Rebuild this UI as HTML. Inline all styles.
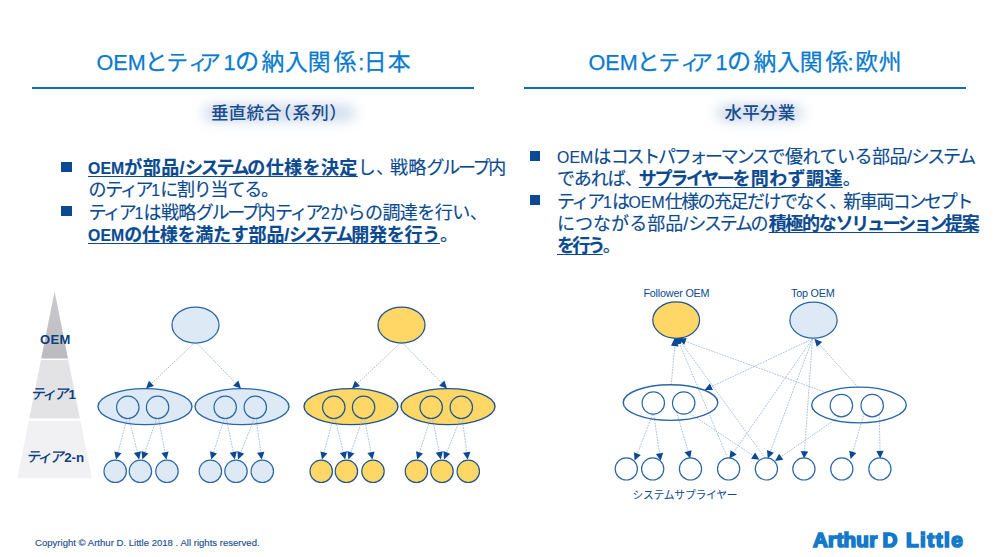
<!DOCTYPE html>
<html lang="ja">
<head>
<meta charset="utf-8">
<title>OEMとティア1の納入関係</title>
<style>
html,body{margin:0;padding:0;background:#fff;}
body{width:1000px;height:557px;position:relative;overflow:hidden;font-family:"Liberation Sans","Noto Sans CJK JP",sans-serif;}
.abs{position:absolute;white-space:nowrap;}
.rule{position:absolute;height:2.1px;background:#0d6dbf;top:87.4px;}
.sub{z-index:0;color:#1a4c8e;font-size:17.5px;font-weight:500;line-height:22px;top:102.3px;text-shadow:0 0 6px #d6e2f0;}
.sub::before{content:"";position:absolute;left:-8px;right:-8px;top:3px;bottom:3px;background:#d0dcec;filter:blur(6.5px);z-index:-1;border-radius:9px;}
.bl{-webkit-text-stroke:0.15px #0b4a8f;color:#0b4a8f;font-size:18px;line-height:24px;height:24px;}
.bl b{font-weight:700;text-decoration:underline;text-decoration-thickness:1.3px;text-underline-offset:1.6px;}
.sq{position:absolute;width:10.6px;height:10.2px;background:#0b4a92;}
.lat{font-size:15.8px;letter-spacing:0.1px;}
.k{letter-spacing:-2.3px;}
.p{letter-spacing:-4px;}
.foot{font-size:9.5px;color:#1c4f90;-webkit-text-stroke:0.15px #1c4f90;left:35px;top:536.8px;letter-spacing:0.03px;line-height:12px;}
.logo{font-size:20.6px;font-weight:700;color:#1479c9;top:526.8px;line-height:26px;-webkit-text-stroke:1.7px #1479c9;}
svg{position:absolute;left:0;top:0;}
svg text{font-family:"Liberation Sans","Noto Sans CJK JP",sans-serif;}
</style>
</head>
<body>
<div class="rule" style="left:32px;width:442px;"></div>
<div class="abs sub" style="left:211px;letter-spacing:0.2px">垂直統合<span style="margin-left:-8.2px">（</span><span style="margin-left:1.2px;letter-spacing:1.2px">系列</span><span style="margin-left:-0.8px">）</span></div>

<div class="rule" style="left:524px;width:442px;"></div>
<div class="abs sub" style="left:724.6px;letter-spacing:0.2px">水平分業</div>

<div class="sq" style="left:61.2px;top:162.2px;"></div>
<div class="sq" style="left:61.2px;top:205.8px;"></div>
<!--BL-->
<div class="abs bl" id="l1" style="left:88px;top:156.1px;"><b id="l1_0" style="letter-spacing:0.42px"><span class="lat">OEM</span>が部品/<span class="k">システム</span>の仕様を決定</b><span id="l1_1" style="letter-spacing:0.23px">し<span class="p">、</span>戦略<span class="k">グループ</span>内</span></div>
<div class="abs bl" id="l2" style="left:88.5px;top:178.3px;"><span id="l2_0" style="letter-spacing:-1.21px">の<span class="k">ティア</span><span class="lat">1</span>に割り当てる。</span></div>
<div class="abs bl" id="l3" style="left:88.5px;top:200.5px;"><span id="l3_0" style="letter-spacing:-0.53px"><span class="k">ティア</span><span class="lat">1</span>は戦略<span class="k">グループ</span>内<span class="k">ティア</span><span class="lat">2</span>からの調達を行い<span class="p">、</span></span></div>
<div class="abs bl" id="l4" style="left:88px;top:222.7px;"><b id="l4_0" style="letter-spacing:-0.24px"><span class="lat">OEM</span>の仕様を満たす部品/<span class="k">システム</span>開発を行う</b><span id="l4_1" style="letter-spacing:0.00px">。</span></div>
<div class="abs bl" id="r1" style="left:557px;top:145.1px;"><span id="r1_0" style="letter-spacing:-0.48px"><span class="lat">OEM</span>は<span class="k">コストパフォーマンス</span>で優れている部品/<span class="k">システム</span></span></div>
<div class="abs bl" id="r2" style="left:557px;top:167.3px;"><span id="r2_0" style="letter-spacing:-1.01px">であれば<span class="p">、</span></span><b id="r2_1" style="letter-spacing:0.39px"><span class="k">サプライヤー</span>を問わず調達</b><span id="r2_2" style="letter-spacing:0.00px">。</span></div>
<div class="abs bl" id="r3" style="left:557px;top:189.5px;"><span id="r3_0" style="letter-spacing:-1.54px"><span class="k">ティア</span><span class="lat">1</span>は<span class="lat">OEM</span>仕様の充足だけでなく<span class="p">、</span>新車両<span class="k">コンセプト</span></span></div>
<div class="abs bl" id="r4" style="left:557px;top:211.7px;"><span id="r4_0" style="letter-spacing:0.04px">につながる部品/<span class="k">システム</span>の</span><b id="r4_1" style="letter-spacing:-1.28px">積極的な<span class="k">ソリューション</span>提案</b></div>
<div class="abs bl" id="r5" style="left:557px;top:233.9px;"><b id="r5_0" style="letter-spacing:-2.74px">を行う</b><span id="r5_1" style="letter-spacing:0.00px">。</span></div>
<!--/BL-->
<div class="sq" style="left:529.6px;top:151.3px;"></div>
<div class="sq" style="left:529.6px;top:194.8px;"></div>

<svg width="1000" height="557" viewBox="0 0 1000 557">
<defs><linearGradient id="pg" x1="0" y1="0" x2="0" y2="1"><stop offset="0" stop-color="#cbcbce"/><stop offset="1" stop-color="#bbbbbf"/></linearGradient></defs>
<polygon points="54.6,291.3 54.6,291.3 68.0,358.6 41.2,358.6" fill="url(#pg)"/>
<polygon points="40.9,360.0 68.3,360.0 80.0,418.6 29.2,418.6" fill="#e3e3e6"/>
<polygon points="28.8,420.8 80.4,420.8 91.9,478.3 17.3,478.3" fill="#f1f1f3"/>
<text x="40" y="343.6" font-size="13" font-weight="700" letter-spacing="0.3" fill="#0b3f80">OEM</text>
<text x="0" y="0" transform="translate(30.4 398.6) skewX(-10)" font-size="14.5" font-weight="500" letter-spacing="-2.1" fill="#0b3f80">ティア</text>
<text x="68.6" y="398.9" font-size="13.3" font-weight="700" fill="#0b3f80">1</text>
<text x="0" y="0" transform="translate(25.9 461.6) skewX(-10)" font-size="14.5" font-weight="500" letter-spacing="-2.1" fill="#0b3f80">ティア</text>
<text x="64.2" y="461.8" font-size="13.3" font-weight="700" fill="#0b3f80">2-n</text>
<ellipse cx="195.5" cy="325.0" rx="23.5" ry="18.0" fill="#dee9f6" stroke="#2a67a6" stroke-width="1.25"/>
<ellipse cx="145.0" cy="406.6" rx="47.0" ry="18.0" fill="#dee9f6" stroke="#2a67a6" stroke-width="1.4"/>
<ellipse cx="242.0" cy="406.6" rx="47.0" ry="18.0" fill="#dee9f6" stroke="#2a67a6" stroke-width="1.4"/>
<line x1="193.7" y1="343.6" x2="150.4" y2="384.5" stroke="#84a9d5" stroke-width="0.7" stroke-dasharray="1.8 1"/>
<polygon points="146.0,388.6 148.9,380.8 154.0,386.1" fill="#0b4a92"/>
<line x1="197.3" y1="343.6" x2="236.8" y2="384.3" stroke="#84a9d5" stroke-width="0.7" stroke-dasharray="1.8 1"/>
<polygon points="241.0,388.6 233.1,385.8 238.4,380.6" fill="#0b4a92"/>
<ellipse cx="127.8" cy="407.3" rx="11.2" ry="11.2" fill="none" stroke="#2a67a6" stroke-width="1.2"/>
<ellipse cx="157.6" cy="407.3" rx="11.2" ry="11.2" fill="none" stroke="#2a67a6" stroke-width="1.2"/>
<ellipse cx="225.2" cy="407.3" rx="11.2" ry="11.2" fill="none" stroke="#2a67a6" stroke-width="1.2"/>
<ellipse cx="255.3" cy="407.3" rx="11.2" ry="11.2" fill="none" stroke="#2a67a6" stroke-width="1.2"/>
<line x1="127.0" y1="418.8" x2="117.6" y2="453.8" stroke="#84a9d5" stroke-width="0.7" stroke-dasharray="1.8 1"/>
<polygon points="116.0,459.6 114.4,451.4 121.5,453.3" fill="#0b4a92"/>
<line x1="129.0" y1="418.8" x2="137.7" y2="453.6" stroke="#84a9d5" stroke-width="0.7" stroke-dasharray="1.8 1"/>
<polygon points="139.2,459.4 133.8,453.0 141.0,451.2" fill="#0b4a92"/>
<line x1="156.6" y1="418.8" x2="144.4" y2="453.7" stroke="#84a9d5" stroke-width="0.7" stroke-dasharray="1.8 1"/>
<polygon points="142.4,459.4 141.4,451.1 148.4,453.5" fill="#0b4a92"/>
<line x1="158.6" y1="418.8" x2="165.3" y2="453.7" stroke="#84a9d5" stroke-width="0.7" stroke-dasharray="1.8 1"/>
<polygon points="166.4,459.6 161.4,452.9 168.6,451.5" fill="#0b4a92"/>
<line x1="224.4" y1="418.8" x2="213.0" y2="453.9" stroke="#84a9d5" stroke-width="0.7" stroke-dasharray="1.8 1"/>
<polygon points="211.2,459.6 210.0,451.3 217.0,453.6" fill="#0b4a92"/>
<line x1="226.4" y1="418.8" x2="233.6" y2="453.5" stroke="#84a9d5" stroke-width="0.7" stroke-dasharray="1.8 1"/>
<polygon points="234.8,459.4 229.7,452.8 236.9,451.3" fill="#0b4a92"/>
<line x1="254.3" y1="418.8" x2="240.2" y2="453.8" stroke="#84a9d5" stroke-width="0.7" stroke-dasharray="1.8 1"/>
<polygon points="238.0,459.4 237.4,451.1 244.2,453.8" fill="#0b4a92"/>
<line x1="256.3" y1="418.8" x2="260.9" y2="453.7" stroke="#84a9d5" stroke-width="0.7" stroke-dasharray="1.8 1"/>
<polygon points="261.7,459.6 257.0,452.7 264.4,451.7" fill="#0b4a92"/>
<ellipse cx="115.2" cy="471.3" rx="11.2" ry="11.2" fill="#dee9f6" stroke="#2a67a6" stroke-width="1.2"/>
<ellipse cx="140.4" cy="471.3" rx="11.2" ry="11.2" fill="#dee9f6" stroke="#2a67a6" stroke-width="1.2"/>
<ellipse cx="167.0" cy="471.3" rx="11.2" ry="11.2" fill="#dee9f6" stroke="#2a67a6" stroke-width="1.2"/>
<ellipse cx="210.4" cy="471.3" rx="11.2" ry="11.2" fill="#dee9f6" stroke="#2a67a6" stroke-width="1.2"/>
<ellipse cx="236.0" cy="471.3" rx="11.2" ry="11.2" fill="#dee9f6" stroke="#2a67a6" stroke-width="1.2"/>
<ellipse cx="262.3" cy="471.3" rx="11.2" ry="11.2" fill="#dee9f6" stroke="#2a67a6" stroke-width="1.2"/>
<ellipse cx="401.5" cy="325.0" rx="23.5" ry="18.0" fill="#ffd766" stroke="#1f5490" stroke-width="1.25"/>
<ellipse cx="351.0" cy="406.6" rx="47.0" ry="18.0" fill="#ffd766" stroke="#1f5490" stroke-width="1.4"/>
<ellipse cx="448.0" cy="406.6" rx="47.0" ry="18.0" fill="#ffd766" stroke="#1f5490" stroke-width="1.4"/>
<line x1="399.7" y1="343.6" x2="356.4" y2="384.5" stroke="#84a9d5" stroke-width="0.7" stroke-dasharray="1.8 1"/>
<polygon points="352.0,388.6 354.9,380.8 360.0,386.1" fill="#0b4a92"/>
<line x1="403.3" y1="343.6" x2="442.8" y2="384.3" stroke="#84a9d5" stroke-width="0.7" stroke-dasharray="1.8 1"/>
<polygon points="447.0,388.6 439.1,385.8 444.4,380.6" fill="#0b4a92"/>
<ellipse cx="333.8" cy="407.3" rx="11.2" ry="11.2" fill="none" stroke="#1f5490" stroke-width="1.2"/>
<ellipse cx="363.6" cy="407.3" rx="11.2" ry="11.2" fill="none" stroke="#1f5490" stroke-width="1.2"/>
<ellipse cx="431.2" cy="407.3" rx="11.2" ry="11.2" fill="none" stroke="#1f5490" stroke-width="1.2"/>
<ellipse cx="461.3" cy="407.3" rx="11.2" ry="11.2" fill="none" stroke="#1f5490" stroke-width="1.2"/>
<line x1="333.0" y1="418.8" x2="323.6" y2="453.8" stroke="#84a9d5" stroke-width="0.7" stroke-dasharray="1.8 1"/>
<polygon points="322.0,459.6 320.4,451.4 327.5,453.3" fill="#0b4a92"/>
<line x1="335.0" y1="418.8" x2="343.7" y2="453.6" stroke="#84a9d5" stroke-width="0.7" stroke-dasharray="1.8 1"/>
<polygon points="345.2,459.4 339.8,453.0 347.0,451.2" fill="#0b4a92"/>
<line x1="362.6" y1="418.8" x2="350.4" y2="453.7" stroke="#84a9d5" stroke-width="0.7" stroke-dasharray="1.8 1"/>
<polygon points="348.4,459.4 347.4,451.1 354.4,453.5" fill="#0b4a92"/>
<line x1="364.6" y1="418.8" x2="371.3" y2="453.7" stroke="#84a9d5" stroke-width="0.7" stroke-dasharray="1.8 1"/>
<polygon points="372.4,459.6 367.4,452.9 374.6,451.5" fill="#0b4a92"/>
<line x1="430.4" y1="418.8" x2="419.0" y2="453.9" stroke="#84a9d5" stroke-width="0.7" stroke-dasharray="1.8 1"/>
<polygon points="417.2,459.6 416.0,451.3 423.0,453.6" fill="#0b4a92"/>
<line x1="432.4" y1="418.8" x2="439.6" y2="453.5" stroke="#84a9d5" stroke-width="0.7" stroke-dasharray="1.8 1"/>
<polygon points="440.8,459.4 435.7,452.8 442.9,451.3" fill="#0b4a92"/>
<line x1="460.3" y1="418.8" x2="446.2" y2="453.8" stroke="#84a9d5" stroke-width="0.7" stroke-dasharray="1.8 1"/>
<polygon points="444.0,459.4 443.4,451.1 450.2,453.8" fill="#0b4a92"/>
<line x1="462.3" y1="418.8" x2="466.9" y2="453.7" stroke="#84a9d5" stroke-width="0.7" stroke-dasharray="1.8 1"/>
<polygon points="467.7,459.6 463.0,452.7 470.4,451.7" fill="#0b4a92"/>
<ellipse cx="321.2" cy="471.3" rx="11.2" ry="11.2" fill="#ffd766" stroke="#1f5490" stroke-width="1.2"/>
<ellipse cx="346.4" cy="471.3" rx="11.2" ry="11.2" fill="#ffd766" stroke="#1f5490" stroke-width="1.2"/>
<ellipse cx="373.0" cy="471.3" rx="11.2" ry="11.2" fill="#ffd766" stroke="#1f5490" stroke-width="1.2"/>
<ellipse cx="416.4" cy="471.3" rx="11.2" ry="11.2" fill="#ffd766" stroke="#1f5490" stroke-width="1.2"/>
<ellipse cx="442.0" cy="471.3" rx="11.2" ry="11.2" fill="#ffd766" stroke="#1f5490" stroke-width="1.2"/>
<ellipse cx="468.3" cy="471.3" rx="11.2" ry="11.2" fill="#ffd766" stroke="#1f5490" stroke-width="1.2"/>
<line x1="679.0" y1="342.5" x2="726.8" y2="456.0" stroke="#84a9d5" stroke-width="0.7" stroke-dasharray="1.8 1"/>
<line x1="680.5" y1="341.5" x2="764.5" y2="457.5" stroke="#84a9d5" stroke-width="0.7" stroke-dasharray="1.8 1"/>
<line x1="812.5" y1="338.8" x2="710.0" y2="387.4" stroke="#84a9d5" stroke-width="0.7" stroke-dasharray="1.8 1"/>
<polygon points="704.6,390.0 709.8,383.4 713.0,390.1" fill="#0b4a92"/>
<line x1="812.5" y1="338.8" x2="732.8" y2="453.7" stroke="#84a9d5" stroke-width="0.7" stroke-dasharray="1.8 1"/>
<polygon points="729.4,458.6 730.6,450.3 736.7,454.5" fill="#0b4a92"/>
<line x1="812.5" y1="338.8" x2="769.9" y2="452.8" stroke="#84a9d5" stroke-width="0.7" stroke-dasharray="1.8 1"/>
<polygon points="767.8,458.4 767.0,450.1 773.9,452.7" fill="#0b4a92"/>
<line x1="812.5" y1="338.8" x2="804.4" y2="452.6" stroke="#84a9d5" stroke-width="0.7" stroke-dasharray="1.8 1"/>
<polygon points="804.0,458.6 800.8,450.9 808.2,451.4" fill="#0b4a92"/>
<line x1="671.2" y1="385.0" x2="675.0" y2="344.6" stroke="#84a9d5" stroke-width="0.7" stroke-dasharray="1.8 1"/>
<polygon points="675.6,338.6 678.6,346.4 671.2,345.7" fill="#0b4a92"/>
<line x1="823.5" y1="391.6" x2="684.0" y2="340.9" stroke="#84a9d5" stroke-width="0.7" stroke-dasharray="1.8 1"/>
<polygon points="678.4,338.8 686.7,337.9 684.2,344.8" fill="#0b4a92"/>
<polygon points="674.6,338.2 682.8,337.4 681,343.8 671.2,345.2" fill="#0b4a92"/>
<line x1="858.0" y1="387.2" x2="818.4" y2="343.3" stroke="#84a9d5" stroke-width="0.7" stroke-dasharray="1.8 1"/>
<polygon points="814.4,338.8 822.2,341.9 816.7,346.8" fill="#0b4a92"/>
<line x1="652.6" y1="414.4" x2="636.8" y2="455.0" stroke="#84a9d5" stroke-width="0.7" stroke-dasharray="1.8 1"/>
<polygon points="634.6,460.6 633.9,452.3 640.8,455.0" fill="#0b4a92"/>
<line x1="653.8" y1="414.4" x2="659.7" y2="454.9" stroke="#84a9d5" stroke-width="0.7" stroke-dasharray="1.8 1"/>
<polygon points="660.6,460.8 655.9,453.9 663.2,452.8" fill="#0b4a92"/>
<line x1="676.6" y1="412.0" x2="688.5" y2="452.6" stroke="#84a9d5" stroke-width="0.7" stroke-dasharray="1.8 1"/>
<polygon points="690.2,458.4 684.5,452.2 691.6,450.2" fill="#0b4a92"/>
<line x1="690.0" y1="413.6" x2="754.4" y2="456.5" stroke="#84a9d5" stroke-width="0.7" stroke-dasharray="1.8 1"/>
<polygon points="759.4,459.8 751.1,458.7 755.2,452.6" fill="#0b4a92"/>
<line x1="838.8" y1="417.0" x2="779.9" y2="457.6" stroke="#84a9d5" stroke-width="0.7" stroke-dasharray="1.8 1"/>
<polygon points="775.0,461.0 779.1,453.7 783.3,459.8" fill="#0b4a92"/>
<line x1="864.2" y1="413.2" x2="852.3" y2="453.2" stroke="#84a9d5" stroke-width="0.7" stroke-dasharray="1.8 1"/>
<polygon points="850.6,459.0 849.2,450.8 856.3,452.9" fill="#0b4a92"/>
<line x1="879.2" y1="414.0" x2="880.1" y2="452.4" stroke="#84a9d5" stroke-width="0.7" stroke-dasharray="1.8 1"/>
<polygon points="880.2,458.4 876.3,451.0 883.7,450.8" fill="#0b4a92"/>
<ellipse cx="676.2" cy="320.1" rx="23.4" ry="18.2" fill="#ffd766" stroke="#1f5490" stroke-width="1.25"/>
<ellipse cx="813.5" cy="320.2" rx="23.6" ry="18.0" fill="#dee9f6" stroke="#2a67a6" stroke-width="1.25"/>
<ellipse cx="670.5" cy="402.6" rx="47.3" ry="17.8" fill="none" stroke="#2a67a6" stroke-width="1.4"/>
<ellipse cx="859.0" cy="405.0" rx="47.3" ry="17.9" fill="none" stroke="#2a67a6" stroke-width="1.4"/>
<ellipse cx="653.3" cy="403.0" rx="11.2" ry="11.2" fill="none" stroke="#2a67a6" stroke-width="1.2"/>
<ellipse cx="683.7" cy="403.0" rx="11.2" ry="11.2" fill="none" stroke="#2a67a6" stroke-width="1.2"/>
<ellipse cx="841.4" cy="405.6" rx="11.2" ry="11.2" fill="none" stroke="#2a67a6" stroke-width="1.2"/>
<ellipse cx="872.2" cy="405.6" rx="11.2" ry="11.2" fill="none" stroke="#2a67a6" stroke-width="1.2"/>
<ellipse cx="626.3" cy="468.9" rx="11.1" ry="11.1" fill="none" stroke="#2a67a6" stroke-width="1.2"/>
<ellipse cx="652.7" cy="468.9" rx="11.1" ry="11.1" fill="none" stroke="#2a67a6" stroke-width="1.2"/>
<ellipse cx="690.5" cy="468.9" rx="11.1" ry="11.1" fill="none" stroke="#2a67a6" stroke-width="1.2"/>
<ellipse cx="728.6" cy="468.9" rx="11.1" ry="11.1" fill="none" stroke="#2a67a6" stroke-width="1.2"/>
<ellipse cx="766.4" cy="468.9" rx="11.1" ry="11.1" fill="none" stroke="#2a67a6" stroke-width="1.2"/>
<ellipse cx="803.9" cy="468.9" rx="11.1" ry="11.1" fill="none" stroke="#2a67a6" stroke-width="1.2"/>
<ellipse cx="841.8" cy="468.9" rx="11.1" ry="11.1" fill="none" stroke="#2a67a6" stroke-width="1.2"/>
<ellipse cx="879.9" cy="468.9" rx="11.1" ry="11.1" fill="none" stroke="#2a67a6" stroke-width="1.2"/>
<text x="676.4" y="297" text-anchor="middle" font-size="10.8" letter-spacing="-0.2" fill="#0b4a8f">Follower OEM</text>
<text x="812.8" y="297" text-anchor="middle" font-size="10.8" letter-spacing="-0.2" fill="#0b4a8f">Top OEM</text>
<text x="632.5" y="499.2" font-size="10.8" letter-spacing="-0.25" fill="#0b4a8f">システムサプライヤー</text>
<g fill="#0b7bcd" stroke="#0b7bcd" stroke-width="0.25"><text y="70.2"><tspan x="96.5" font-size="21.6">OEM</tspan><tspan x="144.7" font-size="22.8">と</tspan><tspan x="166.6" font-size="21.4">テ</tspan><tspan x="188.6" font-size="19.5">ィ</tspan><tspan x="199.6" font-size="21.4">ア</tspan><tspan x="223.6" font-size="21.6">1</tspan><tspan x="235.0" font-size="24.2">の</tspan><tspan x="261.4" font-size="22.8">納</tspan><tspan x="285.0" font-size="22.8">入</tspan><tspan x="307.8" font-size="22.8">関</tspan><tspan x="333.6" font-size="22.8">係</tspan><tspan x="358.3" font-size="21.6">:</tspan><tspan x="363.8" font-size="22.8">日</tspan><tspan x="387.7" font-size="22.8">本</tspan></text><text y="70.2"><tspan x="588.5" font-size="21.6">OEM</tspan><tspan x="636.7" font-size="22.8">と</tspan><tspan x="658.6" font-size="21.4">テ</tspan><tspan x="680.6" font-size="19.5">ィ</tspan><tspan x="691.6" font-size="21.4">ア</tspan><tspan x="715.6" font-size="21.6">1</tspan><tspan x="727.0" font-size="24.2">の</tspan><tspan x="753.4" font-size="22.8">納</tspan><tspan x="777.0" font-size="22.8">入</tspan><tspan x="799.8" font-size="22.8">関</tspan><tspan x="825.6" font-size="22.8">係</tspan><tspan x="847.4" font-size="21.6">:</tspan><tspan x="855.2" font-size="22.8">欧</tspan><tspan x="878.8" font-size="22.8">州</tspan></text></g>
</svg>

<div class="abs foot">Copyright © Arthur D. Little 2018 . All rights reserved.</div>
<div class="abs logo" style="left:813px;letter-spacing:0.25px;">Arthur</div><div class="abs logo" style="left:882.6px;">D</div><div class="abs logo" style="left:906px;letter-spacing:1.5px;">Little</div>
</body>
</html>
